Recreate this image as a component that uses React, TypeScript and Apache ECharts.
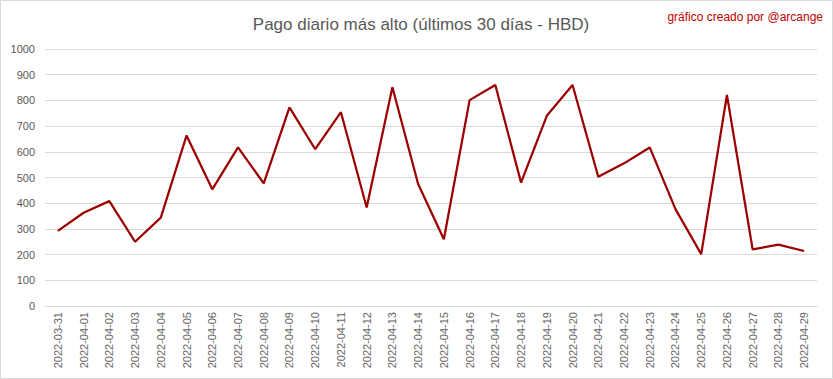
import React, { useEffect, useRef } from "react";
import * as echarts from "echarts";

const dates = [
  "2022-03-31", "2022-04-01", "2022-04-02", "2022-04-03", "2022-04-04", "2022-04-05",
  "2022-04-06", "2022-04-07", "2022-04-08", "2022-04-09", "2022-04-10", "2022-04-11",
  "2022-04-12", "2022-04-13", "2022-04-14", "2022-04-15", "2022-04-16", "2022-04-17",
  "2022-04-18", "2022-04-19", "2022-04-20", "2022-04-21", "2022-04-22", "2022-04-23",
  "2022-04-24", "2022-04-25", "2022-04-26", "2022-04-27", "2022-04-28", "2022-04-29",
];
const maxPayout = [
  292, 363, 408, 250, 344, 663, 454, 617, 477, 773, 610, 754, 383, 851, 475,
  260, 801, 860, 480, 740, 860, 503, 555, 617, 377, 202, 821, 220, 239, 214,
];
const titleText = "Pago diario más alto (últimos 30 días - HBD)";
const creditText = "gráfico creado por @arcange";

export default function App() {
  const ref = useRef<HTMLDivElement>(null);
  useEffect(() => {
    if (!ref.current) return;
    const chart = echarts.init(ref.current, undefined, { renderer: "svg" });
    const font = "'Liberation Sans', Arial, sans-serif";
    chart.setOption({
      animation: false,
      backgroundColor: "#ffffff",
      textStyle: { fontFamily: font },
      title: {
        text: titleText,
        left: 416,
        top: 11,
        textAlign: "center",
        textStyle: { fontSize: 17, fontWeight: "normal", color: "#595959", fontFamily: font },
      },
      graphic: [
        {
          type: "rect",
          shape: { x: 0.5, y: 0.5, width: 832, height: 378 },
          style: { fill: "none", stroke: "#d9d9d9", lineWidth: 1 },
          silent: true,
        },
        {
          type: "text",
          right: 10,
          top: 11,
          style: { text: creditText, fill: "#c00000", fontSize: 12, fontFamily: font },
        },
      ],
      grid: { left: 45, right: 16, top: 49, bottom: 73, containLabel: false },
      xAxis: {
        type: "category",
        data: dates,
        boundaryGap: true,
        axisLine: { show: true, lineStyle: { color: "#d9d9d9", width: 1 } },
        axisTick: { show: false },
        axisLabel: { rotate: 90, color: "#666666", fontSize: 11, margin: 6, interval: 0 },
      },
      yAxis: {
        type: "value",
        min: 0,
        max: 1000,
        interval: 100,
        axisLine: { show: false },
        axisTick: { show: false },
        axisLabel: { color: "#595959", fontSize: 11, margin: 10, formatter: (v: number) => String(v) },
        splitLine: { lineStyle: { color: "#d9d9d9", width: 1 } },
      },
      series: [
        {
          type: "line",
          data: maxPayout,
          symbol: "none",
          lineStyle: { color: "#9c0000", width: 2.25 },
          itemStyle: { color: "#9c0000" },
        },
      ],
    });
    return () => chart.dispose();
  }, []);
  return (
    <div
      ref={ref}
      style={{ position: "fixed", left: 0, top: 0, width: 833, height: 379 }}
    />
  );
}
